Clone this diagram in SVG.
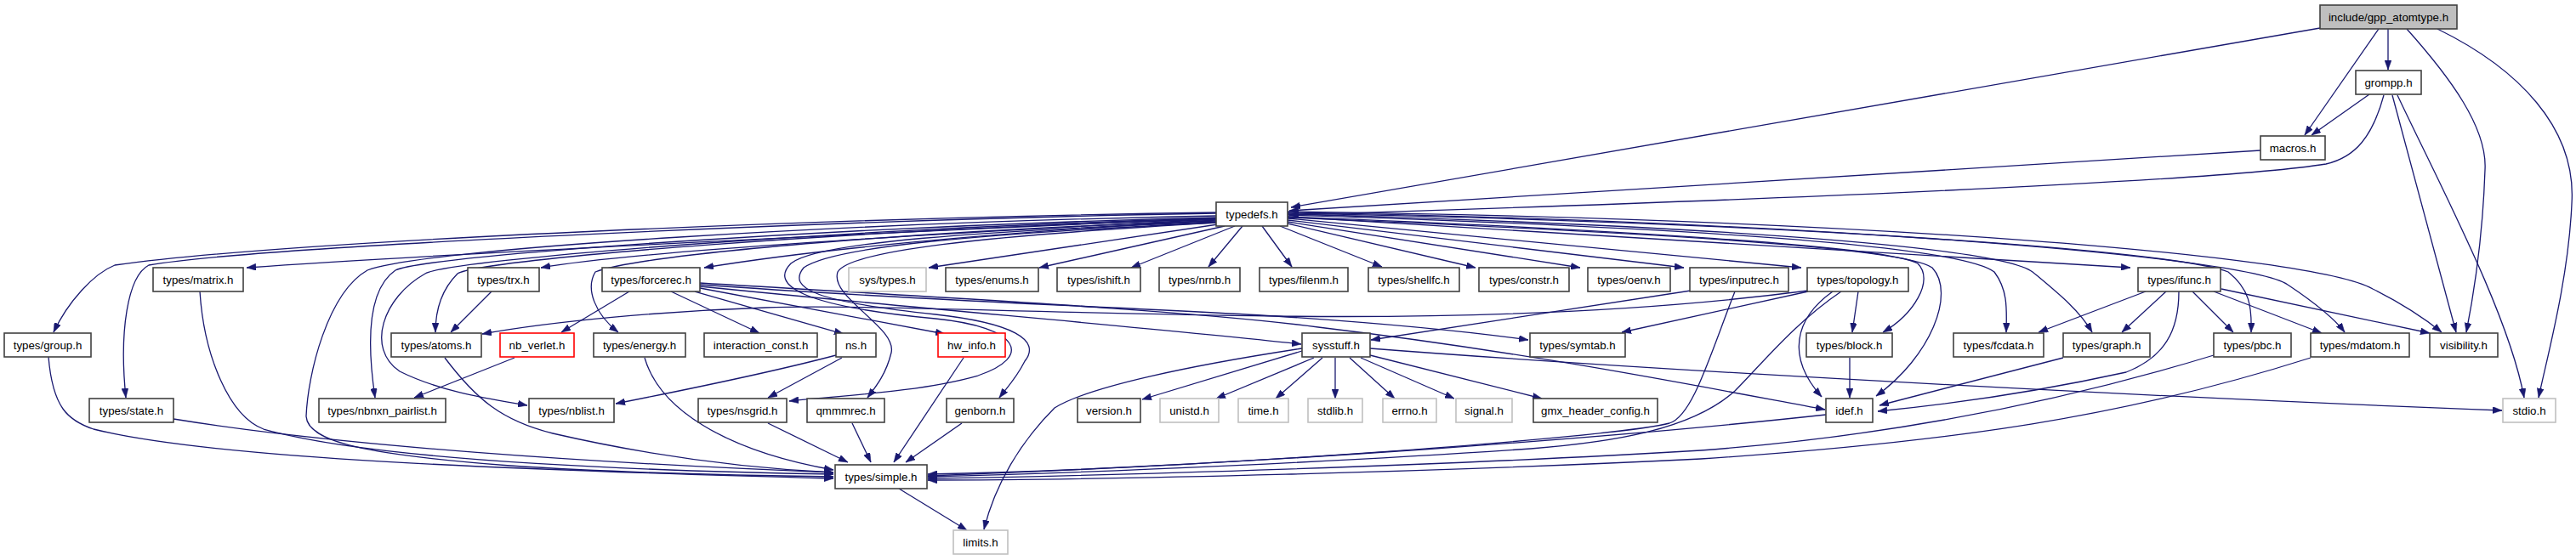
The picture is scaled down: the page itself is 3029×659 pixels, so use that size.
<svg xmlns="http://www.w3.org/2000/svg" width="3029" height="659" viewBox="0 0 3029 659">
<style>
rect{fill:#fff;stroke:#404040;stroke-width:1.6}
.g rect{stroke:#c0c0c0}
.r rect{stroke:#ff0000}
.root rect{fill:#bfbfbf}
text{font-family:"Liberation Sans",Arial,sans-serif;font-size:13.3px;text-anchor:middle;fill:#000}
#edges path{fill:none;stroke:#191970;stroke-width:1.3;marker-end:url(#a)}
</style>
<defs>
<marker id="a" markerWidth="11" markerHeight="8" refX="11" refY="4" orient="auto" markerUnits="userSpaceOnUse"><path d="M0,0 L11,4 L0,8 z" fill="#191970" stroke="#191970" stroke-width="0.5"/></marker>
</defs>
<g id="edges">
<path d="M2728,33 L1518,244"/>
<path d="M2797,34 L2710,159"/>
<path d="M2808,34 L2808,82"/>
<path d="M2830,34 C2880,90 2925,150 2922,200 C2920,260 2912,330 2900,391"/>
<path d="M2866,34 C2960,80 3030,150 3024,240 C3020,330 2995,420 2985,468"/>
<path d="M2786,111 L2718,159"/>
<path d="M2803,112 C2790,160 2770,185 2735,193 C2600,215 2000,238 1516,253"/>
<path d="M2813,112 L2888,391"/>
<path d="M2819,112 C2870,220 2950,370 2968,468"/>
<path d="M2658,177 L1516,248"/>
<path d="M1430,257 C1000,275 500,300 290,315"/>
<path d="M1430,258 C1100,275 750,295 636,315"/>
<path d="M1430,259 C1150,275 950,295 828,315"/>
<path d="M1432,264 L1092,315"/>
<path d="M1440,266 L1222,315"/>
<path d="M1452,266 L1330,315"/>
<path d="M1461,266 L1421,314"/>
<path d="M1484,266 L1519,314"/>
<path d="M1505,266 L1625,314"/>
<path d="M1514,263 L1735,315"/>
<path d="M1514,261 L1858,315"/>
<path d="M1514,259 L1980,315"/>
<path d="M1514,257 L2118,315"/>
<path d="M1514,255 L2505,315"/>
<path d="M1430,250 C1000,256 350,282 135,312 C110,322 80,355 63,391"/>
<path d="M1430,251 C1000,258 300,290 175,312 C150,325 140,390 148,468"/>
<path d="M1430,254 C1000,262 500,292 432,318 C385,345 362,440 360,490 C362,520 430,535 600,548 C750,558 900,560 980,561"/>
<path d="M1430,256 C1000,266 500,300 465,318 C440,335 428,380 441,468"/>
<path d="M1430,257 C1000,268 530,305 500,322 C450,350 430,410 470,437 C520,462 580,470 620,477"/>
<path d="M1430,258 C1000,270 565,305 538,322 C520,340 512,365 512,391"/>
<path d="M1430,260 C1100,270 760,298 700,320 C688,340 700,370 727,391"/>
<path d="M1430,261 C1150,272 960,285 930,310 C905,335 940,360 1100,375 C1200,385 1215,420 1150,442 C1080,462 980,466 928,472"/>
<path d="M1430,262 C1150,275 980,290 945,315 C925,340 960,355 1100,370 C1190,380 1225,400 1205,425 C1195,445 1185,455 1175,468"/>
<path d="M1430,262 C1150,278 1000,295 985,320 C975,350 1055,385 1048,415 C1042,440 1030,455 1020,468"/>
<path d="M1514,255 C1900,270 2220,290 2255,310 C2275,330 2250,370 2214,391"/>
<path d="M1514,256 C1900,272 2240,290 2272,315 C2300,345 2270,420 2206,466"/>
<path d="M1514,253 C1900,265 2300,285 2345,320 C2360,340 2360,360 2359,391"/>
<path d="M1514,252 C2000,265 2350,290 2390,320 C2420,345 2445,365 2460,391"/>
<path d="M1514,251 C2100,262 2560,295 2620,320 C2645,340 2648,360 2647,391"/>
<path d="M1514,250 C2100,260 2640,300 2690,335 C2720,355 2745,375 2757,391"/>
<path d="M1514,249 C2200,258 2720,300 2790,340 C2830,360 2855,378 2871,391"/>
<path d="M823,337 C1100,365 1350,385 1530,405"/>
<path d="M823,335 C1100,355 1300,360 1500,372 C1650,382 1740,392 1797,400"/>
<path d="M823,333 C1100,350 1400,365 1550,385 C1800,415 2000,455 2146,482"/>
<path d="M789,343 L893,392"/>
<path d="M817,343 L992,393"/>
<path d="M823,339 L1111,393"/>
<path d="M740,343 L660,391"/>
<path d="M578,343 L530,391"/>
<path d="M2126,342 C1950,365 1750,375 1500,372 C1200,368 1000,358 900,362 C780,366 650,378 567,393"/>
<path d="M2126,343 L1907,391"/>
<path d="M2185,343 L2178,391"/>
<path d="M2155,343 C2110,375 2100,420 2142,467"/>
<path d="M2165,343 C2110,380 2070,430 2040,460 C1990,505 1900,520 1800,528 C1600,542 1300,556 1091,561"/>
<path d="M1988,342 L1612,400"/>
<path d="M2040,343 C2010,420 1990,490 1963,498 C1900,515 1400,552 1091,558"/>
<path d="M2175,421 L2175,468"/>
<path d="M2523,343 L2397,391"/>
<path d="M2547,343 L2495,391"/>
<path d="M2578,343 L2626,391"/>
<path d="M2603,343 L2730,392"/>
<path d="M2612,340 L2857,392"/>
<path d="M2562,343 C2562,390 2545,420 2500,438 C2400,460 2300,475 2208,484"/>
<path d="M2426,421 L2210,477"/>
<path d="M2603,418 C2400,480 2200,515 2000,530 C1700,548 1300,560 1091,563"/>
<path d="M2717,421 C2500,490 2300,520 2000,540 C1700,555 1300,565 1091,565"/>
<path d="M2147,488 C1900,515 1500,545 1091,560"/>
<path d="M1531,413 L1343,470"/>
<path d="M1545,421 L1430,469"/>
<path d="M1555,421 L1500,469"/>
<path d="M1570,421 L1570,469"/>
<path d="M1587,421 L1640,469"/>
<path d="M1600,421 L1710,469"/>
<path d="M1611,418 L1813,469"/>
<path d="M1611,410 C2000,440 2600,470 2942,483"/>
<path d="M1531,410 C1400,430 1280,455 1240,480 C1200,520 1170,570 1157,623"/>
<path d="M1057,575 L1137,624"/>
<path d="M990,421 L903,468"/>
<path d="M983,418 C900,440 800,460 724,475"/>
<path d="M605,421 L487,468"/>
<path d="M903,498 L997,544"/>
<path d="M1002,498 L1024,544"/>
<path d="M1133,421 L1051,544"/>
<path d="M1131,498 L1065,544"/>
<path d="M57,420 C62,480 80,495 110,505 C250,540 600,553 980,563"/>
<path d="M204,493 C400,525 700,545 980,556"/>
<path d="M235,343 C240,420 270,490 310,505 C450,545 800,555 980,558"/>
<path d="M523,421 C560,470 590,495 650,510 C780,540 900,552 980,556"/>
<path d="M758,421 C775,480 850,530 980,553"/>
</g>
<g id="n_gpp" class="root"><rect x="2728" y="6" width="161" height="28"/><text x="2808.5" y="25">include/gpp_atomtype.h</text></g>
<g id="n_grompp"><rect x="2770" y="83" width="77" height="28"/><text x="2808.5" y="102">grompp.h</text></g>
<g id="n_macros"><rect x="2658" y="160" width="76" height="28"/><text x="2696" y="179">macros.h</text></g>
<g id="n_typedefs"><rect x="1430" y="238" width="84" height="28"/><text x="1472" y="257">typedefs.h</text></g>
<g id="n_matrix"><rect x="180" y="315" width="106" height="28"/><text x="233" y="334">types/matrix.h</text></g>
<g id="n_trx"><rect x="550" y="315" width="84" height="28"/><text x="592" y="334">types/trx.h</text></g>
<g id="n_forcerec"><rect x="708" y="315" width="115" height="28"/><text x="765.5" y="334">types/forcerec.h</text></g>
<g id="n_systypes" class="g"><rect x="998" y="315" width="91" height="28"/><text x="1043.5" y="334">sys/types.h</text></g>
<g id="n_enums"><rect x="1112" y="315" width="109" height="28"/><text x="1166.5" y="334">types/enums.h</text></g>
<g id="n_ishift"><rect x="1243" y="315" width="98" height="28"/><text x="1292" y="334">types/ishift.h</text></g>
<g id="n_nrnb"><rect x="1363" y="315" width="95" height="28"/><text x="1410.5" y="334">types/nrnb.h</text></g>
<g id="n_filenm"><rect x="1481" y="315" width="104" height="28"/><text x="1533" y="334">types/filenm.h</text></g>
<g id="n_shellfc"><rect x="1609" y="315" width="107" height="28"/><text x="1662.5" y="334">types/shellfc.h</text></g>
<g id="n_constr"><rect x="1739" y="315" width="106" height="28"/><text x="1792" y="334">types/constr.h</text></g>
<g id="n_oenv"><rect x="1867" y="315" width="97" height="28"/><text x="1915.5" y="334">types/oenv.h</text></g>
<g id="n_inputrec"><rect x="1987" y="315" width="116" height="28"/><text x="2045" y="334">types/inputrec.h</text></g>
<g id="n_topology"><rect x="2125" y="315" width="119" height="28"/><text x="2184.5" y="334">types/topology.h</text></g>
<g id="n_ifunc"><rect x="2514" y="315" width="97" height="28"/><text x="2562.5" y="334">types/ifunc.h</text></g>
<g id="n_group"><rect x="5" y="392" width="102" height="28"/><text x="56" y="411">types/group.h</text></g>
<g id="n_atoms"><rect x="460" y="392" width="106" height="28"/><text x="513" y="411">types/atoms.h</text></g>
<g id="n_nbverlet" class="r"><rect x="588" y="392" width="87" height="28"/><text x="631.5" y="411">nb_verlet.h</text></g>
<g id="n_energy"><rect x="698" y="392" width="108" height="28"/><text x="752" y="411">types/energy.h</text></g>
<g id="n_interaction"><rect x="828" y="392" width="133" height="28"/><text x="894.5" y="411">interaction_const.h</text></g>
<g id="n_ns"><rect x="983" y="392" width="47" height="28"/><text x="1006.5" y="411">ns.h</text></g>
<g id="n_hwinfo" class="r"><rect x="1103" y="392" width="79" height="28"/><text x="1142.5" y="411">hw_info.h</text></g>
<g id="n_sysstuff"><rect x="1531" y="392" width="80" height="28"/><text x="1571" y="411">sysstuff.h</text></g>
<g id="n_symtab"><rect x="1799" y="392" width="112" height="28"/><text x="1855" y="411">types/symtab.h</text></g>
<g id="n_block"><rect x="2124" y="392" width="101" height="28"/><text x="2174.5" y="411">types/block.h</text></g>
<g id="n_fcdata"><rect x="2297" y="392" width="106" height="28"/><text x="2350" y="411">types/fcdata.h</text></g>
<g id="n_graph"><rect x="2426" y="392" width="102" height="28"/><text x="2477" y="411">types/graph.h</text></g>
<g id="n_pbc"><rect x="2603" y="392" width="91" height="28"/><text x="2648.5" y="411">types/pbc.h</text></g>
<g id="n_mdatom"><rect x="2717" y="392" width="116" height="28"/><text x="2775" y="411">types/mdatom.h</text></g>
<g id="n_visibility"><rect x="2857" y="392" width="80" height="28"/><text x="2897" y="411">visibility.h</text></g>
<g id="n_state"><rect x="105" y="469" width="99" height="28"/><text x="154.5" y="488">types/state.h</text></g>
<g id="n_nbnxn"><rect x="375" y="469" width="149" height="28"/><text x="449.5" y="488">types/nbnxn_pairlist.h</text></g>
<g id="n_nblist"><rect x="622" y="469" width="100" height="28"/><text x="672" y="488">types/nblist.h</text></g>
<g id="n_nsgrid"><rect x="821" y="469" width="104" height="28"/><text x="873" y="488">types/nsgrid.h</text></g>
<g id="n_qmmmrec"><rect x="949" y="469" width="91" height="28"/><text x="994.5" y="488">qmmmrec.h</text></g>
<g id="n_genborn"><rect x="1113" y="469" width="79" height="28"/><text x="1152.5" y="488">genborn.h</text></g>
<g id="n_version"><rect x="1267" y="469" width="74" height="28"/><text x="1304" y="488">version.h</text></g>
<g id="n_unistd" class="g"><rect x="1364" y="469" width="69" height="28"/><text x="1398.5" y="488">unistd.h</text></g>
<g id="n_time" class="g"><rect x="1456" y="469" width="59" height="28"/><text x="1485.5" y="488">time.h</text></g>
<g id="n_stdlib" class="g"><rect x="1538" y="469" width="64" height="28"/><text x="1570" y="488">stdlib.h</text></g>
<g id="n_errno" class="g"><rect x="1626" y="469" width="63" height="28"/><text x="1657.5" y="488">errno.h</text></g>
<g id="n_signal" class="g"><rect x="1712" y="469" width="66" height="28"/><text x="1745" y="488">signal.h</text></g>
<g id="n_gmxconfig"><rect x="1803" y="469" width="146" height="28"/><text x="1876" y="488">gmx_header_config.h</text></g>
<g id="n_idef"><rect x="2147" y="469" width="55" height="28"/><text x="2174.5" y="488">idef.h</text></g>
<g id="n_stdio" class="g"><rect x="2943" y="469" width="62" height="28"/><text x="2974" y="488">stdio.h</text></g>
<g id="n_simple"><rect x="982" y="547" width="108" height="28"/><text x="1036" y="566">types/simple.h</text></g>
<g id="n_limits" class="g"><rect x="1121" y="624" width="64" height="28"/><text x="1153" y="643">limits.h</text></g>
</svg>
